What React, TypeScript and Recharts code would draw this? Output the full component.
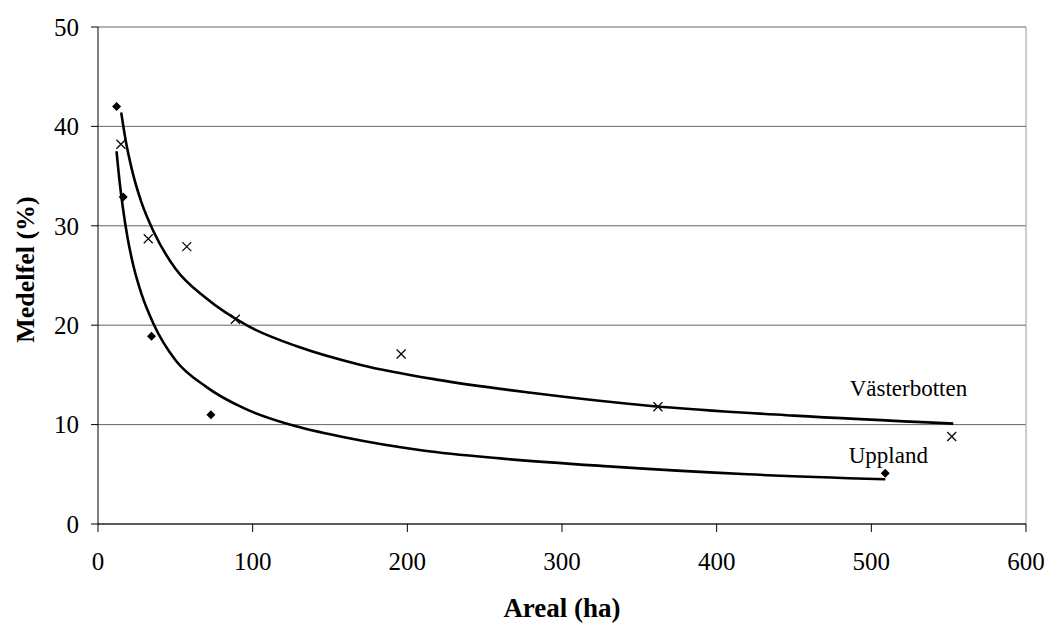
import * as React from 'react';
import {
  CartesianGrid,
  ComposedChart,
  Label,
  Line,
  ReferenceDot,
  ReferenceLine,
  Scatter,
  XAxis,
  YAxis,
} from 'recharts';

// measured points (areal ha, medelfel %)
const upplandPts = [
  { x: 12, y: 42 },
  { x: 16.3, y: 32.9 },
  { x: 34.6, y: 18.9 },
  { x: 73, y: 11 },
  { x: 509, y: 5.1 },
];

const vasterbottenPts = [
  { x: 14.8, y: 38.2 },
  { x: 32.5, y: 28.7 },
  { x: 57.4, y: 27.9 },
  { x: 88.8, y: 20.6 },
  { x: 196, y: 17.1 },
  { x: 362, y: 11.8 },
  { x: 552, y: 8.8 },
];

// trend curves
const upplandCurve = [
  { x: 12, y: 37.5 },
  { x: 14, y: 34.4 },
  { x: 16, y: 31.9 },
  { x: 19, y: 28.9 },
  { x: 23, y: 25.9 },
  { x: 28, y: 23.2 },
  { x: 36, y: 20.1 },
  { x: 50, y: 16.5 },
  { x: 70, y: 13.8 },
  { x: 95, y: 11.6 },
  { x: 124, y: 10 },
  { x: 160, y: 8.7 },
  { x: 210, y: 7.4 },
  { x: 260, y: 6.6 },
  { x: 330, y: 5.8 },
  { x: 420, y: 5 },
  { x: 509, y: 4.5 },
];

const vasterbottenCurve = [
  { x: 15, y: 41.4 },
  { x: 18, y: 38.5 },
  { x: 22, y: 35.6 },
  { x: 28, y: 32.4 },
  { x: 36, y: 29.4 },
  { x: 50, y: 25.7 },
  { x: 70, y: 22.7 },
  { x: 96, y: 20 },
  { x: 130, y: 17.8 },
  { x: 170, y: 16 },
  { x: 220, y: 14.5 },
  { x: 280, y: 13.2 },
  { x: 356, y: 11.9 },
  { x: 450, y: 10.9 },
  { x: 553, y: 10.1 },
];

const xTicks = [0, 100, 200, 300, 400, 500, 600];
const yTicks = [0, 10, 20, 30, 40, 50];

const FONT = '"Liberation Serif", "Times New Roman", serif';

const Diamond = (props: any) => {
  const { cx, cy } = props;
  return (
    <path
      d={`M${cx},${cy - 4.5}L${cx + 4.5},${cy}L${cx},${cy + 4.5}L${cx - 4.5},${cy}Z`}
      fill="#000"
    />
  );
};

const Cross = (props: any) => {
  const { cx, cy } = props;
  return (
    <path
      d={`M${cx - 4.5},${cy - 4.5}L${cx + 4.5},${cy + 4.5}M${cx + 4.5},${cy - 4.5}L${cx - 4.5},${cy + 4.5}`}
      stroke="#000"
      strokeWidth={1.2}
      fill="none"
    />
  );
};

const YTitle = (props: any) => {
  const { viewBox } = props;
  const cx = 25;
  const cy = viewBox.y + viewBox.height / 2 - 6;
  return (
    <text
      x={cx}
      y={cy}
      transform={`rotate(-90 ${cx} ${cy})`}
      textAnchor="middle"
      dominantBaseline="central"
      fontFamily={FONT}
      fontWeight="bold"
      fontSize={26}
      fill="#000"
    >
      Medelfel (%)
    </text>
  );
};

export default function App() {
  return (
    <div style={{ position: 'absolute', left: 0, top: 0, background: '#fff' }}>
      <ComposedChart
        width={1048}
        height={626}
        margin={{ top: 27, right: 22, left: 18, bottom: 2 }}
      >
        <CartesianGrid vertical={false} stroke="#666" />
        <XAxis
          dataKey="x"
          type="number"
          domain={[0, 600]}
          ticks={xTicks}
          height={100}
          stroke="#000"
          tickSize={8}
          tickMargin={20}
          tick={{ fill: '#000', fontFamily: FONT, fontSize: 25 }}
        >
          <Label
            value="Areal (ha)"
            position="insideBottom"
            offset={7}
            style={{ fontFamily: FONT, fontWeight: 'bold', fontSize: 27, fill: '#000' }}
          />
        </XAxis>
        <YAxis
          type="number"
          domain={[0, 50]}
          ticks={yTicks}
          width={80}
          stroke="#000"
          tickSize={7}
          tickMargin={12}
          tick={{ fill: '#000', fontFamily: FONT, fontSize: 25 }}
        >
          <Label content={YTitle} />
        </YAxis>
        <ReferenceLine x={600} stroke="#999" />
        <Line
          data={upplandCurve}
          dataKey="y"
          type="monotone"
          stroke="#000"
          strokeWidth={2.6}
          dot={false}
          isAnimationActive={false}
        />
        <Line
          data={vasterbottenCurve}
          dataKey="y"
          type="monotone"
          stroke="#000"
          strokeWidth={2.6}
          dot={false}
          isAnimationActive={false}
        />
        <Scatter data={upplandPts} dataKey="y" shape={Diamond} isAnimationActive={false} />
        <Scatter data={vasterbottenPts} dataKey="y" shape={Cross} isAnimationActive={false} />
        <ReferenceDot
          x={524}
          y={13.7}
          r={0}
          label={{
            value: 'Västerbotten',
            position: 'center',
            style: { fontFamily: FONT, fontSize: 23, fill: '#000' },
          }}
        />
        <ReferenceDot
          x={511}
          y={7.0}
          r={0}
          label={{
            value: 'Uppland',
            position: 'center',
            style: { fontFamily: FONT, fontSize: 23, fill: '#000' },
          }}
        />
      </ComposedChart>
    </div>
  );
}
